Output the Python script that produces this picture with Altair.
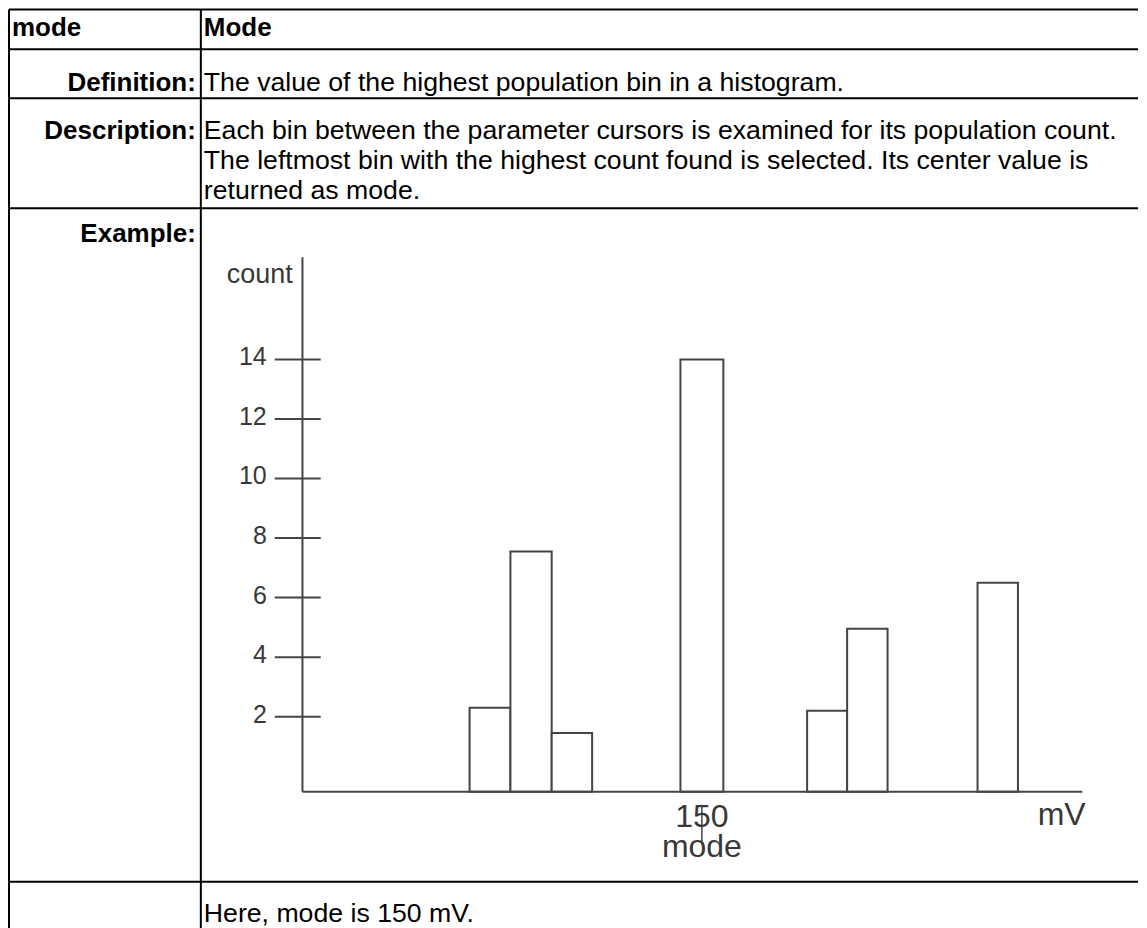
import altair as alt
import pandas as pd

FONT = "Liberation Sans"
GRAY = "#454545"
TXT_GRAY = "#383838"

# ---- table text ----
row_labels = ["mode", "Definition:", "Description:", "Example:", ""]
header_text = "Mode"
definition_text = "The value of the highest population bin in a histogram."
description_lines = [
    "Each bin between the parameter cursors is examined for its population count.",
    "The leftmost bin with the highest count found is selected. Its center value is",
    "returned as mode.",
]
footer_text = "Here, mode is 150 mV."

# ---- histogram (x in mV, y in counts) ----
bin_start = [93.7, 103.6, 113.6, 144.8, 175.5, 185.2, 216.8]
bin_end = [103.6, 113.6, 123.4, 155.2, 185.2, 195.0, 226.6]
bin_count = [2.3, 7.55, 1.45, 14.0, 2.2, 4.95, 6.5]
y_ticks = [2, 4, 6, 8, 10, 12, 14]
y_title = ["count"]
x_unit = ["mV"]
mode_value = [150]
mode_label = ["mode"]

# extents of the drawn (schematic) axes, in data units
BASE = -0.52
AX_X0, AX_X1, AX_YTOP = 53.2, 242.2, 17.43
TICK_X0, TICK_X1, TICK_LX = 46.49, 57.63, 44.55

# layout (pixels)
COL_W = [192, 938]
ROW_H = [40, 49, 110, 674, 48]

xs = alt.Scale(domain=[28.57, 255.69], nice=False, zero=False)
ys = alt.Scale(domain=[-3.54, 19.077], nice=False, zero=False)

ONE = pd.DataFrame({"k": [0]})


def borders(w, h):
    top = alt.Chart(ONE).mark_rule(color="black", strokeWidth=2).encode(
        x=alt.value(0), x2=alt.value(w), y=alt.value(0)
    )
    left = alt.Chart(ONE).mark_rule(color="black", strokeWidth=2).encode(
        x=alt.value(0), y=alt.value(0), y2=alt.value(h)
    )
    return [top, left]


def cell(lines, w, h, x, y, align="left", bold=False):
    txt = (
        alt.Chart(ONE)
        .mark_text(
            text=lines, align=align, baseline="alphabetic", font=FONT,
            fontSize=26 if bold else 26.7,
            fontWeight="bold" if bold else "normal", lineHeight=30, color="black",
        )
        .encode(x=alt.value(x), y=alt.value(y))
    )
    return alt.layer(txt, *borders(w, h)).properties(width=w, height=h)


bars_df = pd.DataFrame({"start": bin_start, "end": bin_end, "count": bin_count})
bars = alt.Chart(bars_df).mark_rect(fill="white", stroke=GRAY, strokeWidth=2).encode(
    x=alt.X("start:Q", scale=xs, axis=None),
    x2="end:Q",
    y=alt.Y("count:Q", scale=ys, axis=None),
    y2=alt.Y2(datum=BASE),
)

yaxis = alt.Chart(ONE).mark_rule(color=GRAY, strokeWidth=2).encode(
    x=alt.X(datum=AX_X0, type="quantitative", scale=xs, axis=None),
    y=alt.Y(datum=BASE, type="quantitative", scale=ys, axis=None),
    y2=alt.Y2(datum=AX_YTOP),
)
xaxis = alt.Chart(ONE).mark_rule(color=GRAY, strokeWidth=2).encode(
    x=alt.X(datum=AX_X0, type="quantitative", scale=xs, axis=None),
    x2=alt.X2(datum=AX_X1),
    y=alt.Y(datum=BASE, type="quantitative", scale=ys, axis=None),
)

ticks_df = pd.DataFrame({"v": y_ticks})
ticks = alt.Chart(ticks_df).mark_rule(color=GRAY, strokeWidth=2).encode(
    x=alt.X(datum=TICK_X0, type="quantitative", scale=xs, axis=None),
    x2=alt.X2(datum=TICK_X1),
    y=alt.Y("v:Q", scale=ys, axis=None),
)
tick_labels = alt.Chart(ticks_df).mark_text(
    align="right", baseline="middle", font=FONT, fontSize=25, color=TXT_GRAY, dy=-2
).encode(
    x=alt.X(datum=TICK_LX, type="quantitative", scale=xs, axis=None),
    y=alt.Y("v:Q", scale=ys, axis=None),
    text="v:Q",
)

count_txt = alt.Chart(pd.DataFrame({"t": y_title})).mark_text(
    align="right", baseline="alphabetic", font=FONT, fontSize=27, color=TXT_GRAY
).encode(
    x=alt.X(datum=50.85, type="quantitative", scale=xs, axis=None),
    y=alt.Y(datum=16.56, type="quantitative", scale=ys, axis=None),
    text="t:N",
)

mode_df = pd.DataFrame({"m": mode_value, "lab": mode_label})
label150 = alt.Chart(mode_df).mark_text(
    align="center", baseline="alphabetic", font=FONT, fontSize=32, color=TXT_GRAY
).encode(
    x=alt.X("m:Q", scale=xs, axis=None),
    y=alt.Y(datum=-1.695, type="quantitative", scale=ys, axis=None),
    text="m:Q",
)
mode_txt = alt.Chart(mode_df).mark_text(
    align="center", baseline="alphabetic", font=FONT, fontSize=32, color=TXT_GRAY
).encode(
    x=alt.X("m:Q", scale=xs, axis=None),
    y=alt.Y(datum=-2.70, type="quantitative", scale=ys, axis=None),
    text="lab:N",
)
pointer = alt.Chart(mode_df).mark_rule(color=GRAY, strokeWidth=1.5).encode(
    x=alt.X("m:Q", scale=xs, axis=None),
    y=alt.Y(datum=-0.96, type="quantitative", scale=ys, axis=None),
    y2=alt.Y2(datum=-2.30),
)
mv_txt = alt.Chart(pd.DataFrame({"t": x_unit})).mark_text(
    align="center", baseline="alphabetic", font=FONT, fontSize=32, color=TXT_GRAY
).encode(
    x=alt.X(datum=237.2, type="quantitative", scale=xs, axis=None),
    y=alt.Y(datum=-1.63, type="quantitative", scale=ys, axis=None),
    text="t:N",
)

example = alt.layer(
    bars, yaxis, xaxis, ticks, tick_labels, count_txt, pointer, label150, mode_txt, mv_txt,
    *borders(COL_W[1], ROW_H[3]),
).properties(width=COL_W[1], height=ROW_H[3])

cells = [
    cell(row_labels[0], COL_W[0], ROW_H[0], 3, 27, "left", True),
    cell(header_text, COL_W[1], ROW_H[0], 3, 27, "left", True),
    cell(row_labels[1], COL_W[0], ROW_H[1], 187, 42, "right", True),
    cell(definition_text, COL_W[1], ROW_H[1], 3, 42),
    cell(row_labels[2], COL_W[0], ROW_H[2], 187, 41, "right", True),
    cell(description_lines, COL_W[1], ROW_H[2], 3, 41),
    cell(row_labels[3], COL_W[0], ROW_H[3], 187, 34, "right", True),
    example,
    cell(row_labels[4], COL_W[0], ROW_H[4], 3, 40),
    cell(footer_text, COL_W[1], ROW_H[4], 3, 40),
]

chart = (
    alt.concat(*cells, columns=2, spacing=0, bounds="flush")
    .properties(padding={"left": 0, "top": 0, "right": 0, "bottom": 0}, background="white")
    .configure_view(stroke="transparent", strokeWidth=0)
)

chart.save("out.html", embed_options={"renderer": "svg", "actions": False})
